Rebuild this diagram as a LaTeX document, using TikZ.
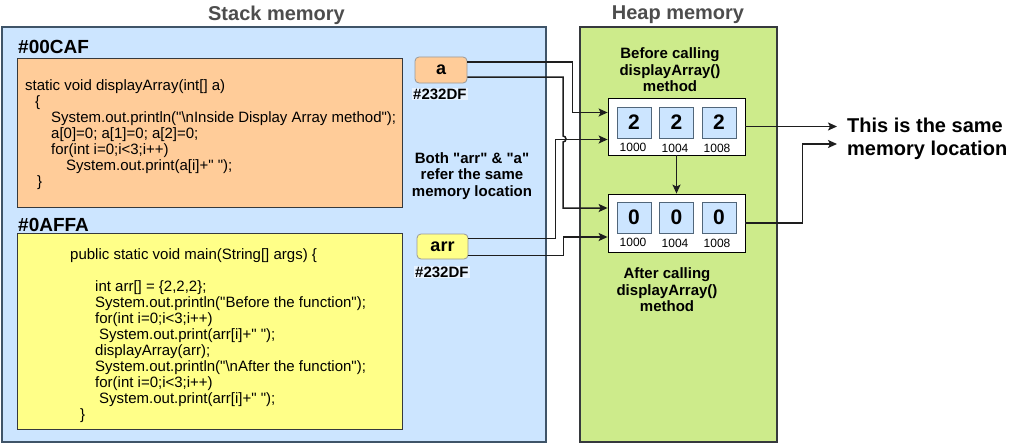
\documentclass[tikz,border=0pt]{standalone}
\usepackage{fontspec}
\setmainfont{Liberation Sans}[Ligatures=TeXOff]
\usetikzlibrary{arrows.meta,calc}
\definecolor{stackfill}{HTML}{CCE5FF}
\definecolor{stackline}{HTML}{3F5468}
\definecolor{heapfill}{HTML}{CDEB8B}
\definecolor{boxline}{HTML}{36393D}
\definecolor{orangefill}{HTML}{FFCC99}
\definecolor{yellowfill}{HTML}{FFFF88}
\definecolor{titlegray}{HTML}{4D4D4D}
\definecolor{cellline}{HTML}{51667A}
\definecolor{linec}{HTML}{1E1E1E}
\newcommand\myfs[2]{\fontsize{#1}{#2}\selectfont}
\begin{document}
\begin{tikzpicture}[x=1pt,y=-1pt,
  title/.style={font=\myfs{20}{22}\bfseries, text=titlegray, inner sep=0pt},
  region/.style={draw=stackline, line width=1.1pt},
  codebox/.style={draw=boxline, line width=0.8pt},
  code/.style={font=\myfs{15}{16}, align=left, inner sep=0pt, anchor=north west},
  addr/.style={font=\myfs{19}{21}\bfseries, inner sep=0pt, anchor=west},
  small/.style={font=\myfs{15}{16}\bfseries, inner sep=1pt, anchor=west, fill=white!55!stackfill},
  ref/.style={draw=gray!80, rounded corners=4pt, line width=0.8pt, font=\myfs{18}{20}\bfseries, inner sep=0pt},
  note/.style={font=\myfs{15}{16.5}\bfseries, align=center, inner sep=0pt},
  container/.style={draw=black, fill=white, line width=0.8pt, minimum width=137pt, inner sep=0pt},
  cell/.style={draw=cellline, fill=stackfill, line width=0.7pt, minimum width=34pt, minimum height=31pt, inner sep=0pt, font=\myfs{21}{23}\bfseries},
  addrlbl/.style={font=\myfs{12}{13}, inner sep=0pt},
  conn/.style={draw=linec, line width=1.5pt, -{Stealth[length=9pt,width=8pt,inset=2pt]}}
]
\useasboundingbox (0,0) rectangle (1024,444);

% regions
\draw[region, fill=stackfill] (2,27) rectangle (546,442);
\draw[region, draw=boxline, fill=heapfill] (580,27) rectangle (777,442);
\node[title] (stackt) at (276.5,15) {Stack memory};
\node[title] (heapt) at (678,15) {Heap memory};

% stack frames
\node[addr] (caf) at (18,47) {\#00CAF};
\draw[codebox, fill=orangefill] (17,58) rectangle (402,207);
\node[code] (code1) at (25,79) {static void displayArray(int[] a)\\
\hspace*{10pt}\{\\
\hspace*{26pt}System.out.println("\textbackslash nInside Display Array method");\\
\hspace*{26pt}a[0]=0; a[1]=0; a[2]=0;\\
\hspace*{26pt}for(int i=0;i<3;i++)\\
\hspace*{41pt}System.out.print(a[i]+" ");\\
\hspace*{12pt}\}};

\node[addr] (affa) at (18,225) {\#0AFFA};
\draw[codebox, fill=yellowfill] (17,233) rectangle (402,429);
\node[code] (code2) at (70,248) {public static void main(String[] args) \{\\
\mbox{}\\
\hspace*{25pt}int arr[] = \{2,2,2\};\\
\hspace*{25pt}System.out.println("Before the function");\\
\hspace*{25pt}for(int i=0;i<3;i++)\\
\hspace*{29pt}System.out.print(arr[i]+" ");\\
\hspace*{25pt}displayArray(arr);\\
\hspace*{25pt}System.out.println("\textbackslash nAfter the function");\\
\hspace*{25pt}for(int i=0;i<3;i++)\\
\hspace*{29pt}System.out.print(arr[i]+" ");\\
\hspace*{10pt}\}};

% references
\node[ref, fill=orangefill, minimum width=52pt, minimum height=26pt] (a) at (441,70) {a};
\node[small] (aaddr) at (412,94) {\#232DF};
\node[ref, fill=yellowfill, minimum width=51pt, minimum height=25pt] (arr) at (442.5,246.5) {arr};
\node[small] (arraddr) at (414,272) {\#232DF};
\node[note] (both) at (472,176) {Both "arr" \& "a"\\refer the same\\memory location};

% heap
\node[note] (before) at (670,70) {Before calling\\displayArray()\\method};
\node[container, minimum height=57pt] (top) at (676.5,126.5) {};
\node[cell] (t1) at (634,122.5) {2};
\node[cell] (t2) at (676.5,122.5) {2};
\node[cell] (t3) at (719,122.5) {2};
\node[addrlbl] (tl1) at (633,147) {1000};
\node[addrlbl] (tl2) at (675,148) {1004};
\node[addrlbl] (tl3) at (717,148) {1008};

\node[container, minimum height=58pt] (bot) at (676.5,223) {};
\node[cell] (b1) at (634,217.5) {0};
\node[cell] (b2) at (676.5,217.5) {0};
\node[cell] (b3) at (719,217.5) {0};
\node[addrlbl] (bl1) at (633,242) {1000};
\node[addrlbl] (bl2) at (675,243) {1004};
\node[addrlbl] (bl3) at (717,243) {1008};
\node[note] (after) at (667,290) {After calling\\displayArray()\\method};

\node[font=\myfs{20}{23}\bfseries, align=left, inner sep=0pt, anchor=west] (same) at (847,139) {This is the same\\memory location};
\coordinate (s1) at (837,126.5);
\coordinate (s2) at (837,144);

% connectors
\draw[conn] ([yshift=8pt]a.east) -- ++(105,0) |- ([yshift=14pt]top.west);
\draw[conn] ([yshift=-7pt]a.east) -| (563,136) arc[start angle=-90,end angle=90,radius=3] |- ([yshift=15pt]bot.west);
\draw[conn] ([yshift=8pt]arr.east) -- ++(87,0) |- ([yshift=-13pt]top.west);
\draw[conn] ([yshift=-9pt]arr.east) -- ++(95,0) |- ([yshift=-14pt]bot.west);
\draw[conn] (top.south) -- (bot.north);
\draw[conn] (top.east) -- (s1);
\draw[conn] (bot.east) -- ++(57,0) |- (s2);
\end{tikzpicture}
\end{document}
